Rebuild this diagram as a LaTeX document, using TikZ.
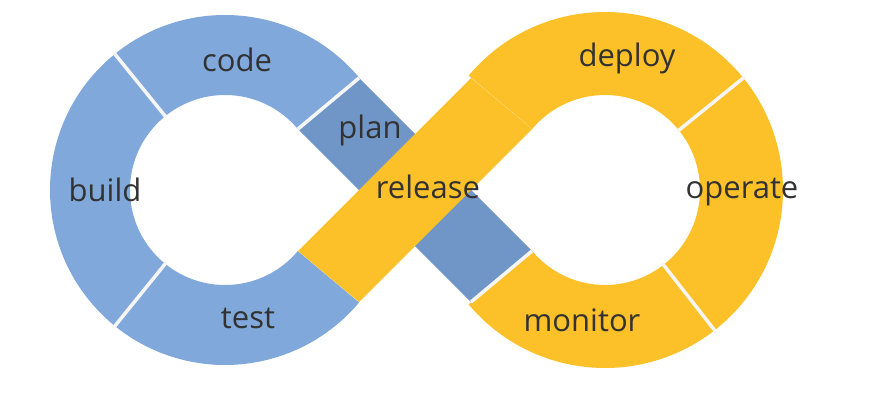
\documentclass[tikz,border=0pt]{standalone}
\usepackage{fontspec}
\usetikzlibrary{calc}
\setmainfont{Open Sans}
\definecolor{bl}{RGB}{128,168,218}
\definecolor{bld}{RGB}{112,150,200}
\definecolor{yl}{RGB}{252,192,40}
\definecolor{tx}{RGB}{50,50,50}
\begin{document}
\begin{tikzpicture}[x=1pt,y=-1pt,
  lbl/.style={text=tx,font=\fontsize{31}{31}\selectfont},
  sep/.style={white!92!gray,line width=3.5pt}]
\useasboundingbox (0,0) rectangle (876,410);
% blue band (behind)
\fill[bld] (359,78) -- (532,251) -- (471,302) -- (298,129) -- cycle;
% blue ring
\fill[bl] (225,190) ++(-40:175) arc[start angle=-40,end angle=-320,radius=175]
  -- ($(225,190)+(-320:95)$) arc[start angle=-320,end angle=-40,radius=95] -- cycle;
% yellow ring
\fill[yl] (605,190) ++(-140:178) arc[start angle=-140,end angle=140,radius=178]
  -- ($(605,190)+(140:95)$) arc[start angle=140,end angle=-140,radius=95] -- cycle;
% yellow band (front)
\fill[yl] (298,251) -- (471,78) -- (532,129) -- (359,302) -- cycle;
% segment separators
\draw[sep] ($(225,190)+(-129:93)$) -- ($(225,190)+(-129:177)$);
\draw[sep] ($(225,190)+(129:93)$) -- ($(225,190)+(129:177)$);
\draw[sep] ($(605,190)+(-39:93)$) -- ($(605,190)+(-39:180)$);
\draw[sep] ($(605,190)+(52:93)$) -- ($(605,190)+(52:180)$);
\draw[sep] (359,78) -- (298,129);
\draw[sep] (471,302) -- (532,251);
% labels
\node[lbl] (code) at (237,60) {code};
\node[lbl] (plan) at (370,130) {plan};
\node[lbl] (build) at (105,190) {build};
\node[lbl] (release) at (428,187) {release};
\node[lbl] (test) at (248,318) {test};
\node[lbl] (deploy) at (627,58) {deploy};
\node[lbl] (operate) at (742,192) {operate};
\node[lbl] (monitor) at (582,320) {monitor};
\end{tikzpicture}
\end{document}
